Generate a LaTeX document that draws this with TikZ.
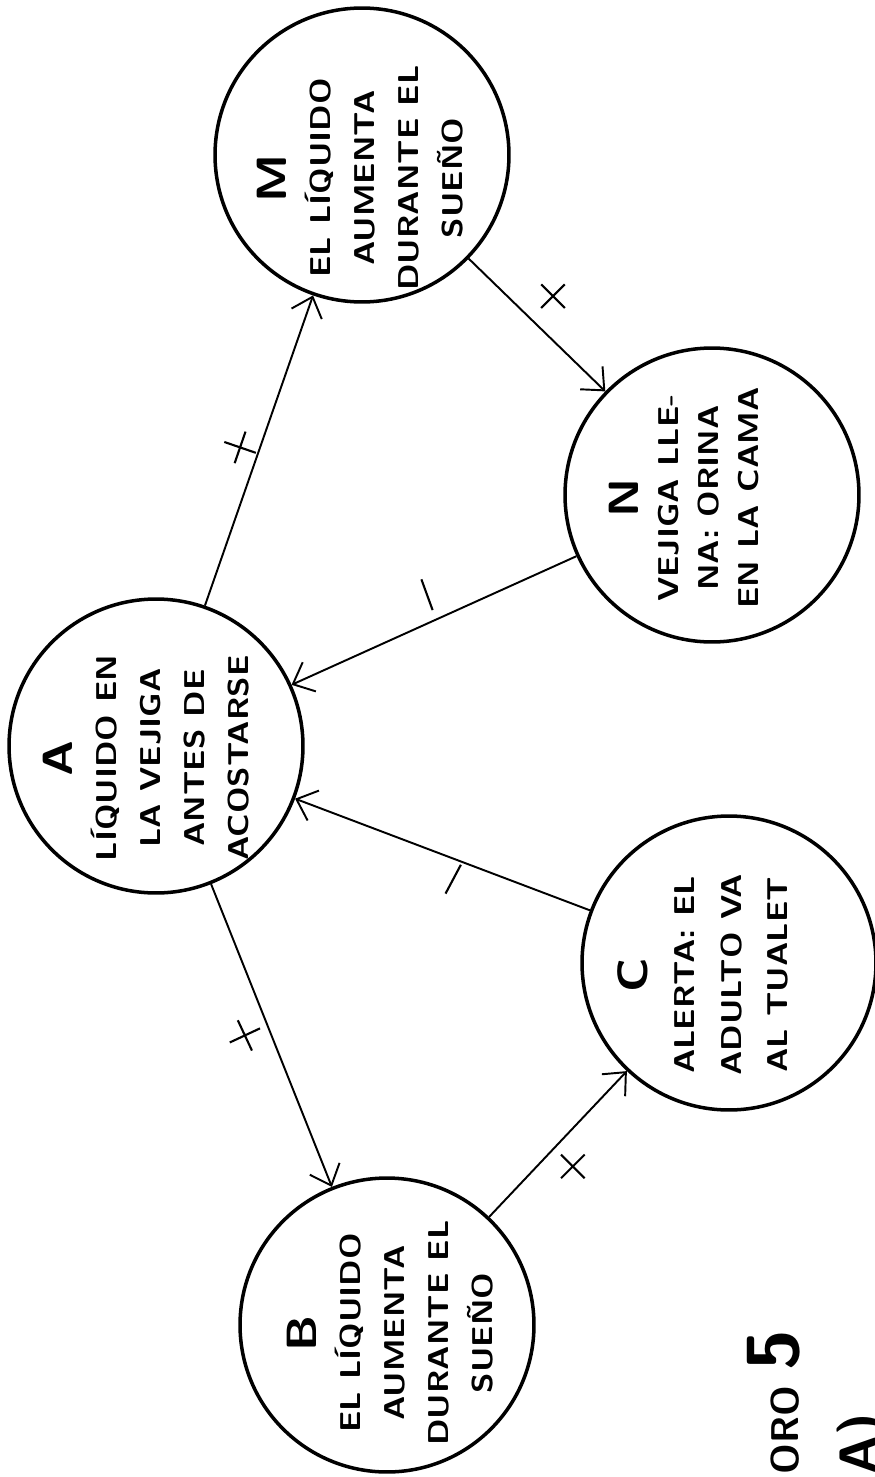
\documentclass[tikz,border=0pt]{standalone}
\usepackage{tikz}
\usetikzlibrary{arrows.meta, shapes.misc}

\newcommand{\letra}[1]{{\fontsize{28}{30}\selectfont #1}}

\begin{document}
\begin{tikzpicture}[>={Straight Barb[length=3.6mm,width=6.4mm]}, x=0.02cm, y=-0.02cm]
	% ------------------------------------------------------------------
	% STYLE DEFINITIONS
	% ------------------------------------------------------------------
	\tikzset{
		estado/.style = {circle, draw, line width=2pt, minimum size=5.88cm, inner sep=0pt},
		texto/.style  = {rotate=90, yscale=0.86, align=center, inner sep=0pt,
			font=\sffamily\bfseries\fontsize{19}{29}\selectfont},
		flecha/.style = {line width=1.1pt, ->},
		mas/.style    = {cross out, draw, line width=1.2pt, minimum size=0.43cm, inner sep=0pt},
		menos/.style  = {strike out, draw, line width=1.2pt, minimum size=0.42cm, inner sep=0pt},
		rotulo/.style = {rotate=90, anchor=base east, inner sep=0pt, font=\sffamily\bfseries},
	}
	\fill[white] (0,0) rectangle (875,1477);
	\useasboundingbox (0,0) rectangle (875,1477);
	
	% ------------------------------------------------------------------
	% STATES
	% ------------------------------------------------------------------
	\node[estado] (A) at (156,746) {};
	\node[estado] (M) at (362,155) {};
	\node[estado] (N) at (712,495) {};
	\node[estado] (B) at (387,1325) {};
	\node[estado] (C) at (729,963) {};
	
	\node[texto] (tA) at (146,758) {\letra{A}\\ LÍQUIDO EN\\ LA VEJIGA\\ ANTES DE\\ ACOSTARSE};
	\node[texto] (tM) at (360,178) {\letra{M}\\ EL LÍQUIDO\\ AUMENTA\\ DURANTE EL\\ SUEÑO};
	\node[texto, font=\sffamily\bfseries\fontsize{19}{26.5}\selectfont] (tN) at (684,498)
		{\letra{N}\\ VEJIGA LLE-\\ NA: ORINA\\ EN LA CAMA};
	\node[texto] (tB) at (390,1333) {\letra{B}\\ EL LÍQUIDO\\ AUMENTA\\ DURANTE EL\\ SUEÑO};
	\node[texto, font=\sffamily\bfseries\fontsize{19}{31}\selectfont] (tC) at (703,975)
		{\letra{C}\\ ALERTA: EL\\ ADULTO VA\\ AL TUALET};
	
	% ------------------------------------------------------------------
	% ARROWS & SIGNS
	% ------------------------------------------------------------------
	\draw[flecha] (A) -- (M) node[mas, pos=.51, xshift=-0.40cm, rotate=26] (sAM) {};
	\draw[flecha] (M) -- (N) node[mas, pos=.456, xshift=0.44cm, yshift=0.46cm] (sMN) {};
	\draw[flecha] (N) -- (A) node[menos, pos=.486, xshift=-0.22cm, yshift=0.48cm, rotate=65] (sNA) {};
	\draw[flecha] (A) -- (B) node[mas, pos=.47, xshift=-0.46cm, yshift=-0.18cm, rotate=-20] (sAB) {};
	\draw[flecha] (B) -- (C) node[mas, pos=.47, xshift=0.38cm, yshift=-0.36cm] (sBC) {};
	\draw[flecha] (C) -- (A) node[menos, pos=.44, xshift=-0.14cm, yshift=-0.36cm, rotate=17] (sCA) {};
	
	% caption, cut by the page edge
	\node[rotulo] (cuadro) at (798,1330) {\fontsize{22}{24}\selectfont ORO\hspace{0.3cm}{\fontsize{42}{44}\selectfont 5}};
	\node[rotulo] (parte) at (876,1413) {\fontsize{30}{32}\selectfont A)};
	
\end{tikzpicture}
\end{document}
